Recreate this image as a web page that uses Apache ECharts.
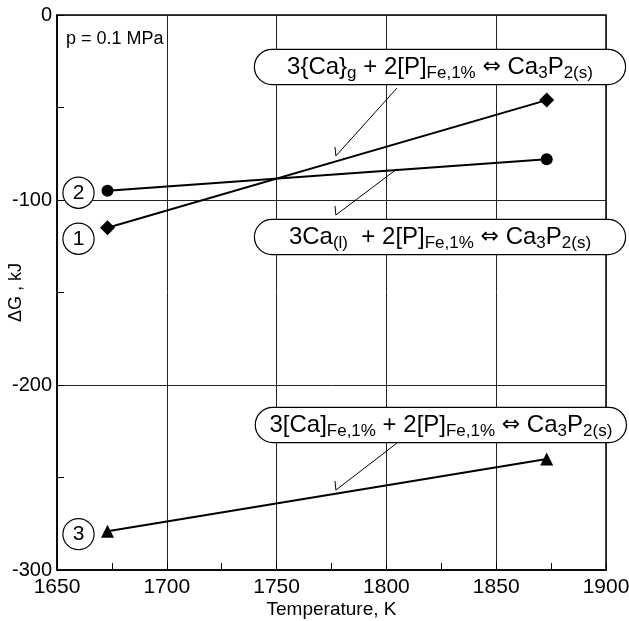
<!DOCTYPE html>
<html>
<head>
<meta charset="utf-8">
<script src="https://cdn.jsdelivr.net/npm/echarts@6/dist/echarts.min.js"></script>
<style>
  html, body { margin: 0; padding: 0; background: #fff; }
  #chart { width: 629px; height: 621px; }
</style>
</head>
<body>
<div id="chart"></div>
<script>
// end points of each reaction line, K
const temperatures = [1673, 1873];
// ΔG of the three reactions, kJ
const dGCaGas = [-115, -46];        // (1) 3{Ca}g
const dGCaLiquid = [-95, -78];      // (2) 3Ca(l)
const dGCaDissolved = [-279, -240]; // (3) 3[Ca]Fe,1%
const lineTags = ['1', '2', '3'];
const equations = [
  '3{Ca}{s|g} + 2[P]{s|Fe,1%} {a|⇔} Ca{s|3}P{s|2(s)}',
  '3Ca{s|(l)}  + 2[P]{s|Fe,1%} {a|⇔} Ca{s|3}P{s|2(s)}',
  '3[Ca]{s|Fe,1%} + 2[P]{s|Fe,1%} {a|⇔} Ca{s|3}P{s|2(s)}'
];
const xRange = [1650, 1900];
const yRange = [-300, 0];

const FONT = '"Liberation Sans", Arial, Helvetica, sans-serif';

function pairs(xs, ys) {
  return xs.map((x, i) => [x, ys[i]]);
}

// circled number next to the first point of a line
function tagged(points, tag, dy, size) {
  return points.map((p, i) => i > 0 ? p : {
    value: p,
    label: {
      show: true,
      formatter: tag,
      position: 'left',
      distance: 29 - size / 2,
      offset: [0, dy],
      align: 'center',
      verticalAlign: 'middle',
      width: 30,
      height: 30,
      lineHeight: 30,
      borderRadius: 15,
      borderWidth: 1.2,
      borderColor: '#000',
      backgroundColor: '#fff',
      fontFamily: FONT,
      fontSize: 21,
      color: '#000'
    }
  });
}

function dataLine(points, tag, dy, symbol, size) {
  return {
    type: 'line',
    data: tagged(points, tag, dy, size),
    symbol: symbol,
    symbolSize: size,
    showAllSymbol: true,
    itemStyle: { color: '#000' },
    lineStyle: { color: '#000', width: 2 },
    z: 3,
    animation: false
  };
}

function leader(points) {
  return {
    type: 'line',
    data: points,
    symbol: 'none',
    lineStyle: { color: '#000', width: 1 },
    silent: true,
    animation: false,
    z: 4
  };
}

const eqLabel = {
  show: true,
  position: 'inside',
  formatter: p => p.name,
  fontFamily: FONT,
  fontSize: 24,
  lineHeight: 26,
  color: '#000',
  opacity: 1,
  textBorderWidth: 0,
  textShadowBlur: 0,
  width: 330,
  align: 'center',
  verticalAlign: 'middle',
  backgroundColor: '#fff',
  borderColor: '#000',
  borderWidth: 1.2,
  borderRadius: 17,
  padding: [4, 20, 4, 20],
  rich: {
    s: { fontFamily: FONT, fontSize: 17, color: '#000', padding: [13, 0, 0, 0] },
    a: { fontFamily: '"DejaVu Sans", sans-serif', fontSize: 22, color: '#000' }
  }
};

const chart = echarts.init(document.getElementById('chart'), null, { renderer: 'canvas' });

chart.setOption({
  backgroundColor: '#fff',
  animation: false,
  title: {
    text: 'p = 0.1 MPa',
    left: 61,
    top: 25,
    textStyle: { fontFamily: FONT, fontSize: 18, fontWeight: 'normal', color: '#000' }
  },
  grid: {
    left: 57, right: 23, top: 15, bottom: 51,
    outerBoundsMode: 'none',
    containLabel: false,
    show: true, borderColor: '#000', borderWidth: 1.5
  },
  xAxis: {
    type: 'value',
    min: xRange[0], max: xRange[1], interval: 50,
    name: 'Temperature, K',
    nameLocation: 'middle',
    nameGap: 30,
    nameMoveOverlap: false,
    nameTextStyle: { fontFamily: FONT, fontSize: 19, color: '#000' },
    axisLine: { onZero: false, lineStyle: { color: '#000', width: 1.5 } },
    axisTick: { show: true, inside: true, length: 7, lineStyle: { color: '#000' } },
    minorTick: { show: true, splitNumber: 2, length: 7, lineStyle: { color: '#000', width: 1 } },
    splitLine: { show: true, lineStyle: { color: '#222', width: 1 } },
    axisLabel: { fontFamily: FONT, fontSize: 21, color: '#000', margin: 7, formatter: v => String(v) }
  },
  yAxis: {
    type: 'value',
    min: yRange[0], max: yRange[1], interval: 100,
    name: 'ΔG , kJ',
    nameLocation: 'middle',
    nameGap: 32,
    nameMoveOverlap: false,
    nameTextStyle: { fontFamily: FONT, fontSize: 18, color: '#000' },
    axisLine: { show: true, onZero: false, lineStyle: { color: '#000', width: 1.5 } },
    axisTick: { show: true, inside: true, length: 7, lineStyle: { color: '#000' } },
    minorTick: { show: true, splitNumber: 2, length: 7, lineStyle: { color: '#000', width: 1 } },
    splitLine: { show: true, lineStyle: { color: '#222', width: 1 } },
    axisLabel: {
      fontFamily: FONT, fontSize: 20, color: '#000', margin: 5,
      padding: [8, 0, 0, 0],
      formatter: v => String(v)
    }
  },
  series: [
    dataLine(pairs(temperatures, dGCaGas), lineTags[0], 11, 'diamond', 15),
    dataLine(pairs(temperatures, dGCaLiquid), lineTags[1], 2, 'circle', 12),
    dataLine(pairs(temperatures, dGCaDissolved), lineTags[2], 3, 'triangle', 13),
    leader([[1776.6, -71.4], [1777, -76.2], [1804.8, -39.5]]),
    leader([[1776.6, -103.2], [1777, -108.1], [1804.8, -83.2]]),
    leader([[1776.6, -251.9], [1777, -256.8], [1804.8, -231.4]]),
    {
      type: 'scatter',
      symbolSize: 0,
      itemStyle: { color: '#000' },
      silent: true,
      animation: false,
      z: 5,
      label: eqLabel,
      data: [
        { name: equations[0], value: [1824.4, -28.1] },
        { name: equations[1], value: [1824.4, -120] },
        { name: equations[2], value: [1824.8, -221.6] }
      ]
    }
  ]
});
</script>
</body>
</html>
